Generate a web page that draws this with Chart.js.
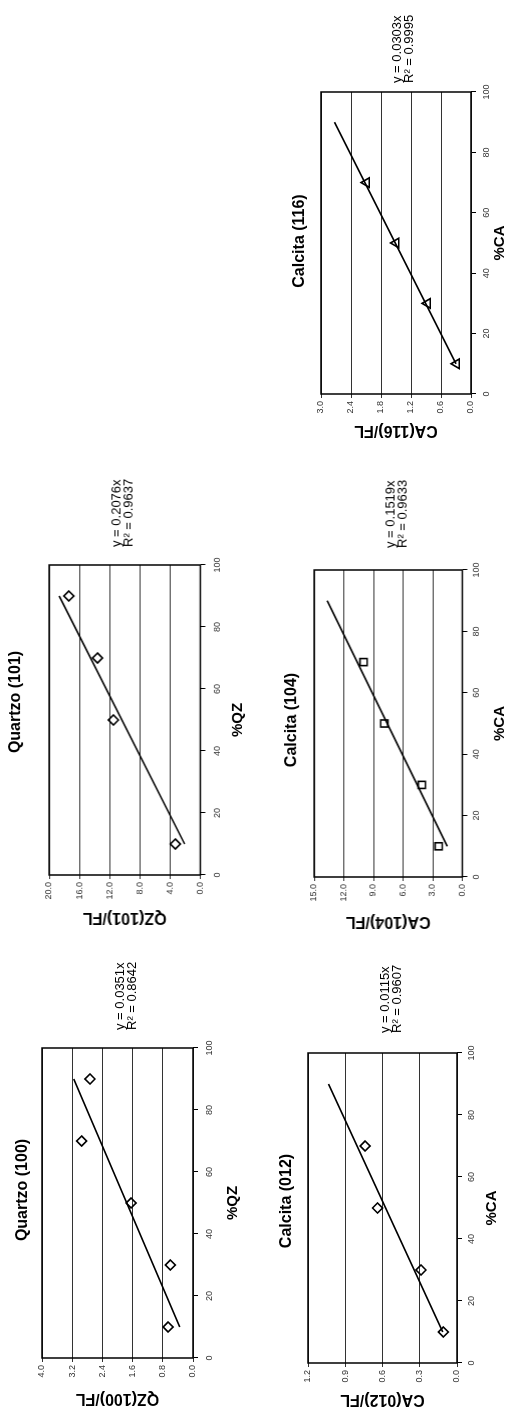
<!DOCTYPE html>
<html>
<head>
<meta charset="utf-8">
<script src="https://cdn.jsdelivr.net/npm/chart.js@4.4.1/dist/chart.umd.min.js"></script>
<style>
  html, body { margin: 0; padding: 0; background: #fff; overflow: hidden; }
  /* the scanned page is landscape, turned a quarter turn to the left */
  #page { position: absolute; left: 0; top: 0; width: 1414px; height: 510px;
          transform-origin: 0 0; transform: translate(0px, 1414px) rotate(-90deg); }
  #page canvas { position: absolute; }
</style>
</head>
<body>
<div id="page"></div>
<script>
// values (x = % of phase, y = peak / FL)
const xTicks = [0, 20, 40, 60, 80, 100];
const trendX = [10, 90];

const qz100X = [10, 30, 50, 70, 90];
const qz100Y = [0.66, 0.60, 1.64, 2.95, 2.73];
const qz100Trend = [0.35, 3.16];
const qz100YTicks = [0.0, 0.8, 1.6, 2.4, 3.2, 4.0];

const qz101X = [10, 50, 70, 90];
const qz101Y = [3.3, 11.5, 13.6, 17.4];
const qz101Trend = [2.08, 18.68];
const qz101YTicks = [0.0, 4.0, 8.0, 12.0, 16.0, 20.0];

const ca012X = [10, 30, 50, 70];
const ca012Y = [0.11, 0.29, 0.64, 0.74];
const ca012Trend = [0.115, 1.035];
const ca012YTicks = [0.0, 0.3, 0.6, 0.9, 1.2];

const ca104X = [10, 30, 50, 70];
const ca104Y = [2.4, 4.1, 7.9, 10.0];
const ca104Trend = [1.52, 13.67];
const ca104YTicks = [0.0, 3.0, 6.0, 9.0, 12.0, 15.0];

const ca116X = [10, 30, 50, 70];
const ca116Y = [0.29, 0.87, 1.50, 2.09];
const ca116Trend = [0.30, 2.73];
const ca116YTicks = [0.0, 0.6, 1.2, 1.8, 2.4, 3.0];

const FONT = '"Liberation Sans", Arial, sans-serif';
Chart.defaults.font.family = FONT;
Chart.defaults.color = '#333';

// where each panel sits on the (unrotated) page
const panels = [
  { title: 'Quartzo (100)', xTitle: '%QZ', yTitle: 'QZ(100)/FL', x: qz100X, y: qz100Y, trend: qz100Trend,
    yTicks: qz100YTicks, marker: 'rectRot', radius: 5, eq: ['y = 0.0351x', 'R\u00b2 = 0.8642'],
    L: 56, R: 366, T: 42, B: 193, titleDx: 13, titleDy: -19, yTitleDist: 40, xTickOff: 17, xTitleOff: 40, eqDx: 18, eqDy: 78 },
  { title: 'Quartzo (101)', xTitle: '%QZ', yTitle: 'QZ(101)/FL', x: qz101X, y: qz101Y, trend: qz101Trend,
    yTicks: qz101YTicks, marker: 'rectRot', radius: 5, eq: ['y = 0.2076x', 'R\u00b2 = 0.9637'],
    L: 539, R: 849, T: 49, B: 200, titleDx: 18, titleDy: -33, yTitleDist: 42.5, xTickOff: 17.5, xTitleOff: 37.5, eqDx: 18, eqDy: 67 },
  { title: 'Calcita (012)', xTitle: '%CA', yTitle: 'CA(012)/FL', x: ca012X, y: ca012Y, trend: ca012Trend,
    yTicks: ca012YTicks, marker: 'rectRot', radius: 5, eq: ['y = 0.0115x', 'R\u00b2 = 0.9607'],
    L: 51, R: 361, T: 308, B: 457, titleDx: 7, titleDy: -21.5, yTitleDist: 36, xTickOff: 15, xTitleOff: 35, eqDx: 20, eqDy: 77 },
  { title: 'Calcita (104)', xTitle: '%CA', yTitle: 'CA(104)/FL', x: ca104X, y: ca104Y, trend: ca104Trend,
    yTicks: ca104YTicks, marker: 'rect', radius: 5, eq: ['y = 0.1519x', 'R\u00b2 = 0.9633'],
    L: 537, R: 844, T: 314, B: 462, titleDx: 3.5, titleDy: -22.5, yTitleDist: 44.5, xTickOff: 14, xTitleOff: 37.5, eqDx: 22, eqDy: 76 },
  { title: 'Calcita (116)', xTitle: '%CA', yTitle: 'CA(116)/FL', x: ca116X, y: ca116Y, trend: ca116Trend,
    yTicks: ca116YTicks, marker: 'triangle', radius: 5.5, eq: ['y = 0.0303x', 'R\u00b2 = 0.9995'],
    L: 1020, R: 1322, T: 321, B: 471, titleDx: 2, titleDy: -21, yTitleDist: 36, xTickOff: 16, xTitleOff: 29, eqDx: 9, eqDy: 76 },
];

// plot frame, panel title and trendline equation
const panelText = {
  id: 'panelText',
  beforeDatasetsDraw(chart) {
    const { ctx, chartArea: a } = chart;
    ctx.save();
    ctx.strokeStyle = '#000';
    ctx.lineWidth = 1.5;
    ctx.strokeRect(a.left, a.top, a.right - a.left, a.bottom - a.top);
    ctx.restore();
  },
  afterDraw(chart, args, o) {
    const { ctx, chartArea: a } = chart;
    ctx.save();
    ctx.fillStyle = '#000';
    ctx.textBaseline = 'middle';
    ctx.textAlign = 'center';
    ctx.font = 'bold 16px ' + FONT;
    ctx.fillText(o.title, (a.left + a.right) / 2 + o.titleDx, a.top + o.titleDy);
    ctx.textAlign = 'left';
    ctx.font = '13px ' + FONT;
    o.eq.forEach((line, i) => ctx.fillText(line, a.right + o.eqDx, a.top + o.eqDy + i * 12.5));
    ctx.restore();
  }
};

const YW = 56, TOP = 45, RIGHT = 100;
const page = document.getElementById('page');

panels.forEach((p) => {
  const xH = p.xTitleOff + 9;
  const w = YW + (p.R - p.L) + RIGHT;
  const h = TOP + (p.B - p.T) + xH;
  const c = document.createElement('canvas');
  c.width = w;
  c.height = h;
  c.style.width = w + 'px';
  c.style.height = h + 'px';
  c.style.left = (p.L - YW) + 'px';
  c.style.top = (p.T - TOP) + 'px';
  page.appendChild(c);

  new Chart(c, {
    type: 'scatter',
    data: {
      datasets: [
        {
          data: trendX.map((x, i) => ({ x: x, y: p.trend[i] })),
          showLine: true,
          borderColor: '#000',
          borderWidth: 1.6,
          pointRadius: 0,
        },
        {
          data: p.x.map((x, i) => ({ x: x, y: p.y[i] })),
          showLine: false,
          pointStyle: p.marker,
          pointRadius: p.radius,
          pointBorderColor: '#000',
          pointBackgroundColor: 'rgba(255,255,255,0)',
          pointBorderWidth: 1.6,
        },
      ],
    },
    options: {
      responsive: false,
      animation: false,
      devicePixelRatio: 1,
      layout: { padding: { top: TOP, right: RIGHT, left: 0, bottom: 0 } },
      plugins: {
        legend: { display: false },
        tooltip: { enabled: false },
        panelText: { title: p.title, eq: p.eq, titleDx: p.titleDx, titleDy: p.titleDy, eqDx: p.eqDx, eqDy: p.eqDy },
      },
      scales: {
        x: {
          type: 'linear',
          min: xTicks[0],
          max: xTicks[xTicks.length - 1],
          afterBuildTicks: (s) => { s.ticks = xTicks.map((v) => ({ value: v })); },
          ticks: { font: { size: 9 }, padding: p.xTickOff - 5 - 5.4, callback: (v) => String(v) },
          grid: { drawOnChartArea: false, drawTicks: true, tickLength: 5, color: '#000' },
          border: { display: false },
          title: { display: true, text: p.xTitle, color: '#000', font: { size: 15, weight: 'bold' }, padding: { top: 0, bottom: 0 } },
          afterFit: (s) => { s.height = xH; },
        },
        y: {
          type: 'linear',
          min: p.yTicks[0],
          max: p.yTicks[p.yTicks.length - 1],
          afterBuildTicks: (s) => { s.ticks = p.yTicks.map((v) => ({ value: v })); },
          ticks: { font: { size: 9 }, padding: 3, callback: (v) => Number(v).toFixed(1) },
          grid: { color: '#333', lineWidth: 1, drawTicks: true, tickLength: 4 },
          border: { display: false },
          title: { display: true, text: p.yTitle, color: '#000', font: { size: 16, weight: 'bold' },
                   padding: { top: YW - p.yTitleDist - 9.6, bottom: 0 } },
          afterFit: (s) => { s.width = YW; },
        },
      },
    },
    plugins: [panelText],
  });
});
</script>
</body>
</html>
